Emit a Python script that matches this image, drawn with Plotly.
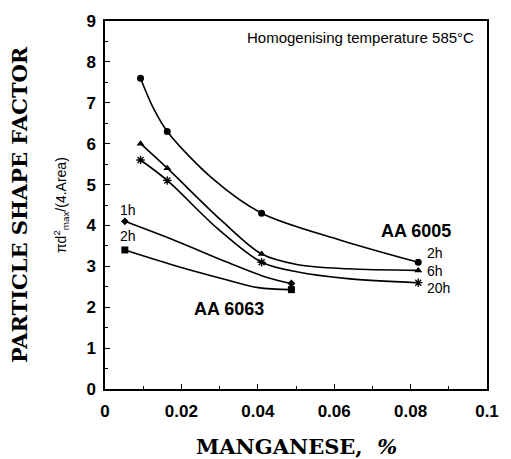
import plotly.graph_objects as go

# measured data points
mn_6005 = [0.0093, 0.0163, 0.041, 0.082]
sf_6005_2h = [7.6, 6.3, 4.3, 3.1]
sf_6005_6h = [6.0, 5.4, 3.3, 2.9]
sf_6005_20h = [5.6, 5.1, 3.1, 2.6]
mn_6063 = [0.0052, 0.0488]
sf_6063_1h = [4.1, 2.58]
sf_6063_2h = [3.4, 2.43]

# fitted curves
curve_6005_2h_x = [0.0093, 0.0125, 0.0163, 0.0281, 0.041, 0.0617, 0.082]
curve_6005_2h_y = [7.6, 6.9, 6.3, 5.15, 4.3, 3.64, 3.1]
curve_6005_6h_x = [0.0093, 0.0163, 0.0306, 0.041, 0.0505, 0.0635, 0.082]
curve_6005_6h_y = [6.0, 5.4, 4.11, 3.3, 3.04, 2.94, 2.9]
curve_6005_20h_x = [0.0093, 0.0163, 0.0295, 0.041, 0.0505, 0.0635, 0.082]
curve_6005_20h_y = [5.6, 5.1, 3.92, 3.1, 2.86, 2.70, 2.6]
curve_6063_1h_x = [0.0052, 0.0186, 0.0315, 0.0427, 0.0488]
curve_6063_1h_y = [4.1, 3.62, 3.12, 2.72, 2.58]
curve_6063_2h_x = [0.0052, 0.0186, 0.0315, 0.0401, 0.0488]
curve_6063_2h_y = [3.4, 3.01, 2.68, 2.48, 2.43]

x_ticks = [0, 0.02, 0.04, 0.06, 0.08, 0.1]
x_labels = ["0", "0.02", "0.04", "0.06", "0.08", "0.1"]

fig = go.Figure()
line = dict(color="black", width=1.6, shape="spline", smoothing=0.9)
for cx, cy in [(curve_6005_2h_x, curve_6005_2h_y), (curve_6005_6h_x, curve_6005_6h_y),
               (curve_6005_20h_x, curve_6005_20h_y), (curve_6063_1h_x, curve_6063_1h_y),
               (curve_6063_2h_x, curve_6063_2h_y)]:
    fig.add_trace(go.Scatter(x=cx, y=cy, mode="lines", line=line, showlegend=False, hoverinfo="skip"))

series = [
    (mn_6005, sf_6005_2h, dict(symbol="circle", size=7)),
    (mn_6005, sf_6005_6h, dict(symbol="triangle-up", size=7)),
    (mn_6005, sf_6005_20h, dict(symbol="asterisk-open", size=7, line=dict(width=1.3, color="black"))),
    (mn_6063, sf_6063_1h, dict(symbol="diamond", size=6)),
    (mn_6063, sf_6063_2h, dict(symbol="square", size=7)),
]
for xs, ys, mk in series:
    mk = dict(mk)
    mk["color"] = "black"
    fig.add_trace(go.Scatter(x=xs, y=ys, mode="markers", marker=mk, showlegend=False))

ann_font = dict(family="Liberation Sans", size=14, color="black")
bold_font = dict(family="Liberation Sans", size=18, color="black", weight="bold")
anns = [
    dict(x=0.0972, y=8.6, text="Homogenising temperature 585°C", xanchor="right",
         font=dict(family="Liberation Sans", size=15, color="black")),
    dict(x=0.0717, y=3.87, text="AA 6005", xanchor="left", font=bold_font),
    dict(x=0.0228, y=1.96, text="AA 6063", xanchor="left", font=bold_font),
    dict(x=0.0837, y=3.32, text="2h", xanchor="left", font=ann_font),
    dict(x=0.0837, y=2.89, text="6h", xanchor="left", font=ann_font),
    dict(x=0.0837, y=2.46, text="20h", xanchor="left", font=ann_font),
    dict(x=0.0033, y=4.39, text="1h", xanchor="left", font=ann_font),
    dict(x=0.0033, y=3.75, text="2h", xanchor="left", font=ann_font),
]
for a in anns:
    fig.add_annotation(xref="x", yref="y", showarrow=False, yanchor="middle", **a)

fig.add_annotation(xref="paper", yref="paper", x=-0.225, y=0.5, xanchor="center", yanchor="middle",
                   text="<b>PARTICLE SHAPE FACTOR</b>", textangle=-90, showarrow=False,
                   font=dict(family="DejaVu Serif", size=21, color="black"))
fig.add_annotation(xref="paper", yref="paper", x=-0.115, y=0.5, xanchor="center", yanchor="middle",
                   text="πd<sup>2</sup><sub>max</sub>/(4.Area)", textangle=-90, showarrow=False,
                   font=dict(family="Liberation Sans", size=14, color="black"))
fig.add_annotation(xref="paper", yref="paper", x=0.5, y=-0.155, xanchor="center", yanchor="middle",
                   text="<b>MANGANESE,  <i>%</i></b>", showarrow=False,
                   font=dict(family="DejaVu Serif", size=21, color="black"))

axis_common = dict(showline=True, linecolor="black", linewidth=1.5, mirror=True, showgrid=False,
                   zeroline=False, ticks="inside", ticklen=5, tickcolor="black",
                   tickfont=dict(family="Liberation Sans", size=17, color="black", weight="bold"))
fig.update_xaxes(range=[0, 0.1], tickvals=x_ticks, ticktext=x_labels, ticklabelstandoff=6,
                 minor=dict(ticks="inside", dtick=0.01, ticklen=3, tickcolor="black"), **axis_common)
fig.update_yaxes(range=[0, 9], dtick=1, ticklabelstandoff=4,
                 minor=dict(ticks="inside", dtick=0.5, ticklen=3, tickcolor="black"), **axis_common)

fig.update_layout(width=511, height=459, margin=dict(l=105, r=20, t=12, b=70),
                  paper_bgcolor="white", plot_bgcolor="white")
fig.write_html("out.html")
